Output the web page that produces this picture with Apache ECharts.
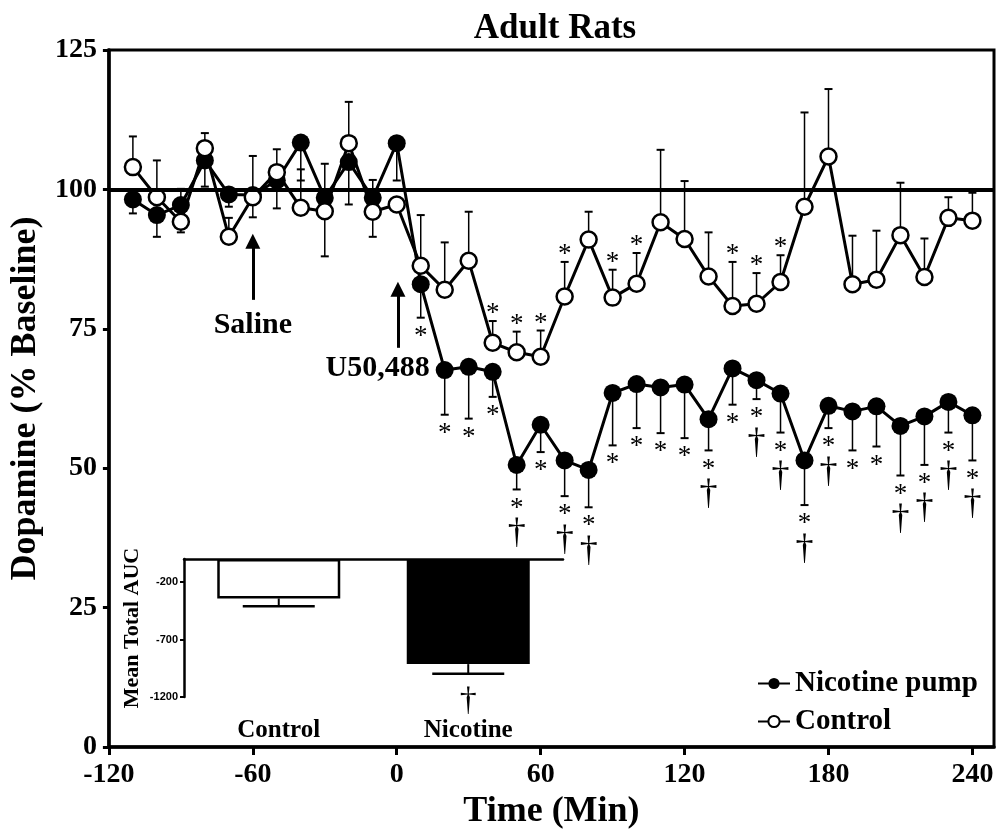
<!DOCTYPE html>
<html>
<head>
<meta charset="utf-8">
<title>Adult Rats</title>
<script src="https://cdn.jsdelivr.net/npm/echarts@6.0.0/dist/echarts.min.js"></script>
<style>
  html, body { margin: 0; padding: 0; background: #fff; }
  #chart { width: 997px; height: 835px; }
</style>
</head>
<body>
<div id="chart"></div>
<script>
// sampling times (min)
const times = [-110, -100, -90, -80, -70, -60, -50, -40, -30, -20, -10, 0,
  10, 20, 30, 40, 50, 60, 70, 80, 90, 100, 110, 120,
  130, 140, 150, 160, 170, 180, 190, 200, 210, 220, 230, 240];

// Control (open circles): mean and where its error bar ends
const controlMean = [104.0, 98.6, 94.2, 107.4, 91.5, 98.6, 103.1, 96.7, 96.1, 108.3, 96.0, 97.3,
  86.3, 82.0, 87.2, 72.5, 70.8, 70.0, 80.8, 91.0, 80.6, 83.1, 94.1, 91.1,
  84.4, 79.1, 79.5, 83.4, 96.9, 105.9, 83.0, 83.8, 91.8, 84.3, 94.9, 94.4];
const controlErrEnd = [109.5, 105.2, 92.3, 110.1, 94.9, 106.0, 107.2, 103.6, 88.0, 115.7, 91.5, 97.3,
  95.4, 90.5, 96.0, 76.4, 74.5, 74.7, 87.0, 96.0, 85.6, 88.6, 107.1, 101.5,
  92.3, 87.0, 85.0, 88.2, 113.8, 118.0, 91.7, 92.6, 101.2, 91.2, 98.6, 99.4];

// Nicotine pump (filled circles)
const nicotineMean = [98.2, 95.4, 97.2, 105.2, 99.1, 99.0, 101.6, 108.4, 98.5, 104.9, 98.5, 108.3,
  83.0, 67.6, 68.2, 67.3, 50.6, 57.8, 51.4, 49.7, 63.5, 65.1, 64.5, 65.0,
  58.8, 67.9, 65.8, 63.4, 51.4, 61.2, 60.2, 61.1, 57.6, 59.3, 61.9, 59.5];
const nicotineErrEnd = [95.7, 91.5, 100.1, 100.5, 96.9, 95.0, 96.6, 101.6, 104.6, 97.3, 101.7, 101.6,
  77.0, 59.6, 58.9, 62.8, 46.2, 52.9, 45.0, 43.0, 54.1, 57.2, 56.3, 55.4,
  53.2, 61.4, 62.4, 56.4, 43.4, 57.2, 53.2, 53.9, 48.7, 50.6, 56.4, 51.4];

// significance marks
const controlStarAt = [40, 50, 60, 70, 90, 100, 140, 150, 160];
const nicotineStarAt = [10, 20, 30, 40, 50, 60, 70, 80, 90, 100, 110, 120,
  130, 140, 150, 160, 170, 180, 190, 200, 210, 220, 230, 240];
const nicotineDaggerAt = [50, 70, 80, 130, 150, 160, 170, 180, 210, 220, 230, 240];

const xTicks = [-120, -60, 0, 60, 120, 180, 240];

// inset: mean total AUC
const aucGroups = ['Control', 'Nicotine'];
const aucMean = [-343, -914];
const aucErrEnd = [-410, -998];
const aucTicks = [-1200, -700, -200];

const SERIF = 'Liberation Serif';

function errorBarItem(capHalf, width) {
  return function (params, api) {
    const x = api.value(0);
    const p0 = api.coord([x, api.value(1)]);
    const p1 = api.coord([x, api.value(2)]);
    return {
      type: 'group',
      children: [
        { type: 'line', shape: { x1: p0[0], y1: p0[1], x2: p1[0], y2: p1[1] },
          style: { stroke: '#000', lineWidth: width } },
        { type: 'line', shape: { x1: p1[0] - capHalf, y1: p1[1], x2: p1[0] + capHalf, y2: p1[1] },
          style: { stroke: '#000', lineWidth: width + 0.5 } }
      ]
    };
  };
}

function markItem(symbol, dy, font) {
  return function (params, api) {
    const p = api.coord([api.value(0), api.value(1)]);
    return {
      type: 'text',
      x: p[0], y: p[1] + dy,
      style: { text: symbol, fill: '#000', font: font,
        align: 'center', verticalAlign: 'middle' }
    };
  };
}

function errPairs(means, ends) {
  return times.map((t, i) => [t, means[i], ends[i]]);
}
function marksAt(list, ends) {
  return list.map(t => [t, ends[times.indexOf(t)]]);
}

const noteLabels = ['Saline', 'U50,488'];

const chart = echarts.init(document.getElementById('chart'));
chart.setOption({
  animation: false,
  backgroundColor: '#fff',
  textStyle: { fontFamily: SERIF, color: '#000' },
  title: {
    text: 'Adult Rats', left: 550, top: 6, textAlign: 'center',
    textStyle: { fontFamily: SERIF, fontSize: 35, fontWeight: 'bold', color: '#000' }
  },
  legend: {
    data: ['Nicotine pump', 'Control'],
    orient: 'vertical', left: 752, top: 664, itemGap: 9,
    itemWidth: 32, itemHeight: 14,
    textStyle: { fontFamily: SERIF, fontSize: 29, fontWeight: 'bold', color: '#000' }
  },
  grid: [
    { left: 102, right: 3, top: 50, bottom: 82, show: true, borderColor: '#000', borderWidth: 3 },
    { left: 184, top: 559, width: 379, height: 138 }
  ],
  xAxis: [
    {
      type: 'value', gridIndex: 0, min: -120, max: 249,
      axisLine: { onZero: false, lineStyle: { color: '#000', width: 3.5 } },
      axisTick: { customValues: xTicks, length: 8, lineStyle: { color: '#000', width: 3 } },
      axisLabel: { customValues: xTicks, fontFamily: SERIF, fontSize: 28, fontWeight: 'bold', color: '#000', margin: 14 },
      splitLine: { show: false },
      name: 'Time (Min)', nameLocation: 'middle', nameGap: 42,
      nameTextStyle: { fontFamily: SERIF, fontSize: 36, fontWeight: 'bold', color: '#000' }
    },
    {
      type: 'category', gridIndex: 1, data: aucGroups, position: 'bottom',
      axisLine: { show: false, onZero: false }, axisTick: { show: false },
      axisLabel: { fontFamily: SERIF, fontSize: 25, fontWeight: 'bold', color: '#000', margin: 21 }
    },
    {
      type: 'category', gridIndex: 1, data: aucGroups, position: 'top',
      axisLine: { onZero: false, lineStyle: { color: '#000', width: 2.5 } },
      axisTick: { show: false }, axisLabel: { show: false }
    }
  ],
  yAxis: [
    {
      type: 'value', gridIndex: 0, min: 0, max: 125, interval: 25,
      axisLine: { show: true, onZero: false, lineStyle: { color: '#000', width: 3.5 } },
      axisTick: { show: true, length: 6, lineStyle: { color: '#000', width: 3 } },
      axisLabel: { fontFamily: SERIF, fontSize: 28, fontWeight: 'bold', color: '#000', margin: 12 },
      splitLine: { show: false },
      name: 'Dopamine (% Baseline)', nameLocation: 'middle', nameGap: 53,
      nameTextStyle: { fontFamily: SERIF, fontSize: 36, fontWeight: 'bold', color: '#000' }
    },
    {
      type: 'value', gridIndex: 1, min: -1200, max: 0,
      axisLine: { show: true, onZero: false, lineStyle: { color: '#000', width: 2.5 } },
      axisTick: { show: true, customValues: aucTicks, length: 4, lineStyle: { color: '#000', width: 2 } },
      axisLabel: { customValues: aucTicks, formatter: v => String(v),
        fontFamily: 'Liberation Sans', fontSize: 11, fontWeight: 'bold', color: '#000', margin: 6 },
      splitLine: { show: false },
      name: 'Mean Total AUC', nameLocation: 'middle', nameGap: 41,
      nameTextStyle: { fontFamily: SERIF, fontSize: 22, fontWeight: 'bold', color: '#000' }
    }
  ],
  series: [
    {
      type: 'custom', name: 'nicErr', xAxisIndex: 0, yAxisIndex: 0, z: 2,
      renderItem: errorBarItem(4, 1.5), data: errPairs(nicotineMean, nicotineErrEnd)
    },
    {
      type: 'custom', name: 'ctrlErr', xAxisIndex: 0, yAxisIndex: 0, z: 2,
      renderItem: errorBarItem(4, 1.5), data: errPairs(controlMean, controlErrEnd)
    },
    {
      type: 'line', name: 'Nicotine pump', xAxisIndex: 0, yAxisIndex: 0, z: 3,
      data: times.map((t, i) => [t, nicotineMean[i]]),
      symbol: 'circle', symbolSize: 18,
      itemStyle: { color: '#000' },
      lineStyle: { color: '#000', width: 3 },
      markLine: {
        silent: true, animation: false,
        symbol: ['none', 'none'],
        label: { show: false },
        lineStyle: { color: '#000', type: 'solid', width: 3 },
        data: [
          { yAxis: 100, lineStyle: { width: 4 } },
          [{ coord: [-60, 80.2] }, { coord: [-60, 90.7], symbol: 'triangle', symbolSize: 15 }],
          [{ coord: [0.5, 71.6] }, { coord: [0.5, 82.1], symbol: 'triangle', symbolSize: 15 }]
        ]
      }
    },
    {
      type: 'line', name: 'Control', xAxisIndex: 0, yAxisIndex: 0, z: 4,
      data: times.map((t, i) => [t, controlMean[i]]),
      symbol: 'circle', symbolSize: 16,
      itemStyle: { color: '#fff', borderColor: '#000', borderWidth: 2.5 },
      lineStyle: { color: '#000', width: 3 }
    },
    {
      type: 'custom', name: 'ctrlStar', xAxisIndex: 0, yAxisIndex: 0, z: 5,
      renderItem: markItem('*', -7, '27px "' + SERIF + '"'), data: marksAt(controlStarAt, controlErrEnd)
    },
    {
      type: 'custom', name: 'nicStar', xAxisIndex: 0, yAxisIndex: 0, z: 5,
      renderItem: markItem('*', 19, '27px "' + SERIF + '"'), data: marksAt(nicotineStarAt, nicotineErrEnd)
    },
    {
      type: 'custom', name: 'nicDagger', xAxisIndex: 0, yAxisIndex: 0, z: 5,
      renderItem: markItem('\u2020', 44, '36px "' + SERIF + '"'), data: marksAt(nicotineDaggerAt, nicotineErrEnd)
    },
    {
      type: 'custom', name: 'notes', xAxisIndex: 0, yAxisIndex: 0, z: 5,
      renderItem: function (params, api) {
        const p = api.coord([api.value(0), api.value(1)]);
        return {
          type: 'text', x: p[0], y: p[1],
          style: { text: noteLabels[params.dataIndex], fill: '#000',
            font: 'bold 30px "' + SERIF + '"', align: 'center', verticalAlign: 'middle' }
        };
      },
      data: [[-60, 75.7], [-8, 67.9]]
    },
    {
      type: 'bar', name: 'AUC', xAxisIndex: 1, yAxisIndex: 1, barWidth: 123,
      data: aucMean.map((v, i) => ({
        value: v,
        itemStyle: i === 0 ? { color: '#fff', borderColor: '#000', borderWidth: 2.5 } : { color: '#000' }
      }))
    },
    {
      type: 'custom', name: 'aucErr', xAxisIndex: 1, yAxisIndex: 1, z: 3,
      renderItem: errorBarItem(36, 2), data: aucMean.map((v, i) => [i, v, aucErrEnd[i]])
    },
    {
      type: 'custom', name: 'aucDagger', xAxisIndex: 1, yAxisIndex: 1, z: 3,
      renderItem: markItem('\u2020', 27, '34px "' + SERIF + '"'), data: [[1, aucErrEnd[1]]]
    }
  ]
});
</script>
</body>
</html>
